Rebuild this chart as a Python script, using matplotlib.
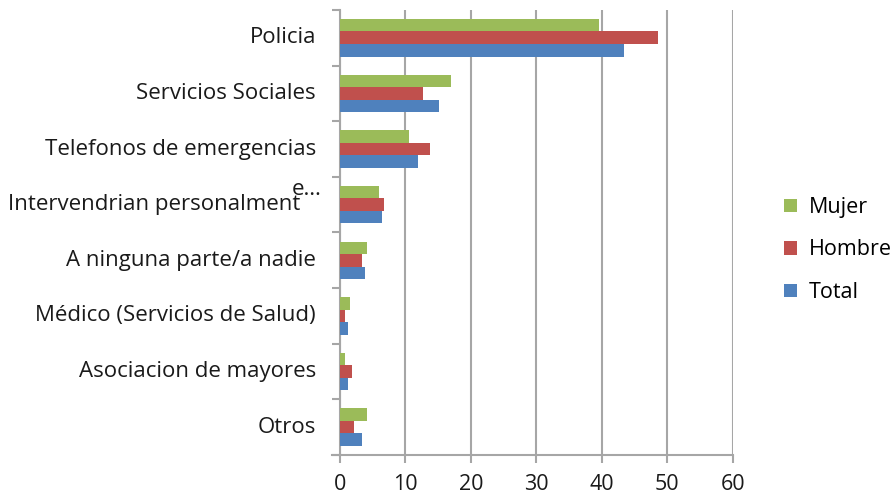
import numpy as np
import matplotlib.pyplot as plt
from matplotlib.lines import Line2D

plt.rcParams['font.family'] = ['Open Sans', 'DejaVu Sans']

categorias = ['Policia', 'Servicios Sociales', 'Telefonos de emergencias',
              'Intervendrian personalmente', 'A ninguna parte/a nadie',
              'Médico (Servicios de Salud)', 'Asociacion de mayores', 'Otros']
mujer = [39.6, 16.9, 10.5, 6.0, 4.1, 1.5, 0.7, 4.1]
hombre = [48.6, 12.7, 13.7, 6.8, 3.4, 0.8, 1.8, 2.2]
total = [43.4, 15.1, 11.9, 6.4, 3.8, 1.3, 1.3, 3.3]

verde = '#9BBB59'
rojo = '#C0504D'
azul = '#4F81BD'
gris = '#A6A6A6'

fig = plt.figure(figsize=(8.93, 4.96), dpi=100)
ax = fig.add_axes([0.3807, 0.0826, 0.44, 0.8974])

y = np.arange(len(categorias))
h = 0.225
ax.barh(y - h, mujer, height=h, color=verde, label='Mujer', zorder=3)
ax.barh(y, hombre, height=h, color=rojo, label='Hombre', zorder=3)
ax.barh(y + h, total, height=h, color=azul, label='Total', zorder=3)

ax.set_ylim(len(categorias) - 0.5, -0.5)
ax.set_xlim(0, 60)
ax.set_xticks(range(0, 61, 10))
ax.tick_params(axis='x', labelsize=15.5, colors=gris, labelcolor='#1a1a1a',
               length=6, width=1.5, pad=8)

# category labels
ax.set_yticks(np.arange(len(categorias) + 1) - 0.5)
ax.set_yticklabels([])
ax.tick_params(axis='y', colors=gris, length=6, width=1.5)
tr = ax.get_yaxis_transform()
for i, c in enumerate(categorias):
    if c == 'Intervendrian personalmente':
        ax.text(-0.102, i, 'Intervendrian personalment', transform=tr,
                ha='right', va='center', fontsize=16, color='#1a1a1a')
        ax.text(-0.046, i - 0.27, 'e…', transform=tr,
                ha='right', va='center', fontsize=16, color='#1a1a1a')
    else:
        ax.text(-0.061, i, c, transform=tr,
                ha='right', va='center', fontsize=16, color='#1a1a1a')

ax.grid(axis='x', color=gris, linewidth=1.5, zorder=0)
ax.spines['top'].set_visible(False)
ax.spines['right'].set_visible(False)
for s in ['left', 'bottom']:
    ax.spines[s].set_color(gris)
    ax.spines[s].set_linewidth(1.5)
ax.add_line(Line2D([-0.02, 0], [0, 0], transform=ax.transAxes, color=gris,
                   linewidth=1.5, clip_on=False))

ax.legend(loc='center left', bbox_to_anchor=(0.866, 0.496),
          bbox_transform=fig.transFigure, frameon=False, borderpad=0,
          fontsize=15.5, handlelength=0.6, handleheight=0.6, labelspacing=1.0,
          handletextpad=0.55)

fig.savefig('out.png', dpi=100)
